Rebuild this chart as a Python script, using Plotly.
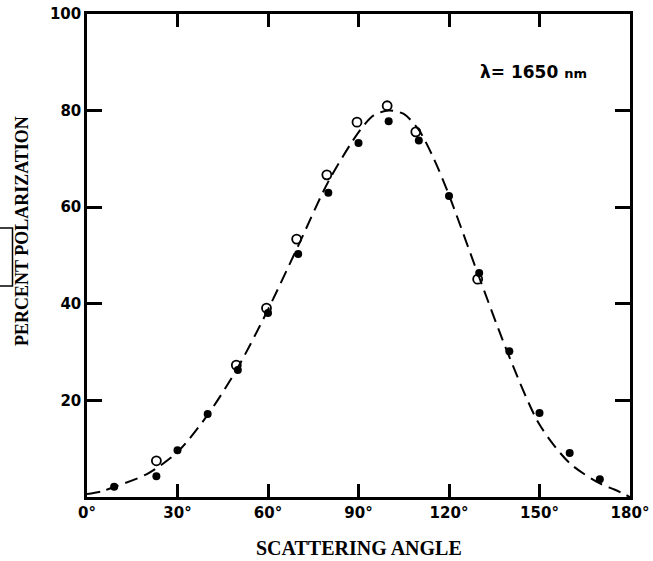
import plotly.graph_objects as go

# Filled circles (measured)
filled_angle = [9, 23, 30, 40, 50, 60, 70, 80, 90, 100, 110, 120, 130, 140, 150, 160, 170]
filled_pol = [2.1, 4.3, 9.7, 17.2, 26.3, 38.1, 50.3, 63.0, 73.3, 77.8, 73.8, 62.3, 46.4, 30.2, 17.4, 9.1, 3.7]

# Open circles (measured)
open_angle = [23, 49.5, 59.5, 69.5, 79.5, 89.5, 99.5, 109, 129.5]
open_pol = [7.5, 27.3, 39.1, 53.4, 66.7, 77.6, 81.0, 75.6, 45.1]

# Dashed theoretical curve
curve_angle = [0, 5, 10, 20, 30, 40, 50, 60, 70, 80, 90, 95, 100, 105, 110, 115, 120, 130, 140, 150, 160, 170, 175, 180]
curve_pol = [0.6, 1.2, 2.3, 4.8, 9.3, 17.0, 26.8, 38.8, 52.0, 65.3, 75.5, 79.0, 80.0, 79.3, 76.0, 70.0, 62.5, 45.5, 29.0, 15.0, 7.0, 2.8, 1.5, 0.0]

x_tickvals = [0, 30, 60, 90, 120, 150, 180]
x_ticktext = ["0°", "30°", "60°", "90°", "120°", "150°", "180°"]
y_tickvals = [20, 40, 60, 80, 100]
y_ticktext = ["20", "40", "60", "80", "100"]

fig = go.Figure()
fig.add_trace(go.Scatter(x=curve_angle, y=curve_pol, mode="lines",
                         line=dict(color="black", width=2, dash="13px,7px", shape="spline", smoothing=0.8),
                         hoverinfo="skip", showlegend=False))
fig.add_trace(go.Scatter(x=open_angle, y=open_pol, mode="markers",
                         marker=dict(symbol="circle-open", size=9, color="black", line=dict(width=1.8)),
                         showlegend=False))
fig.add_trace(go.Scatter(x=filled_angle, y=filled_pol, mode="markers",
                         marker=dict(symbol="circle", size=8, color="black"),
                         showlegend=False))

tickfont = dict(family="DejaVu Sans", size=15, color="black", weight="bold")
fig.update_xaxes(range=[0, 180], tickvals=x_tickvals, ticktext=x_ticktext,
                 ticks="inside", ticklen=13, tickwidth=2.5, tickcolor="black",
                 showline=True, linewidth=2.5, linecolor="black", mirror="allticks",
                 showgrid=False, zeroline=False, tickfont=tickfont, automargin=False)
fig.update_yaxes(range=[0, 100], tickvals=y_tickvals, ticktext=y_ticktext,
                 ticks="inside", ticklen=15, tickwidth=2.5, tickcolor="black",
                 showline=True, linewidth=2.5, linecolor="black", mirror="allticks",
                 showgrid=False, zeroline=False, tickfont=tickfont, automargin=False)

fig.add_annotation(xref="paper", yref="paper", x=0.5, y=-0.105, yanchor="middle",
                   text="SCATTERING ANGLE", showarrow=False,
                   font=dict(family="Liberation Serif", size=20, color="black", weight="bold"))
fig.add_annotation(xref="paper", yref="paper", x=(22 - 87) / 543, y=(497 - 231) / 483,
                   xanchor="center", yanchor="middle", textangle=-90,
                   text="PERCENT POLARIZATION", showarrow=False,
                   font=dict(family="Liberation Serif", size=18, color="black", weight="bold"))
fig.add_annotation(xref="paper", yref="paper", x=(478 - 87) / 543, y=(497 - 72) / 483,
                   xanchor="left", yanchor="middle",
                   text="λ= 1650 <span style='font-size:13px'>nm</span>", showarrow=False,
                   font=dict(family="DejaVu Sans", size=17, color="black", weight="bold"))

# scan artifact box at left edge
fig.add_shape(type="rect", xref="paper", yref="paper",
              x0=-0.25, x1=(12.5 - 87) / 543, y0=(497 - 286) / 483, y1=(497 - 228) / 483,
              line=dict(color="black", width=1.5))

fig.update_layout(width=653, height=561, margin=dict(l=87, r=23, t=14, b=64),
                  plot_bgcolor="white", paper_bgcolor="white")

fig.write_html("out.html")
